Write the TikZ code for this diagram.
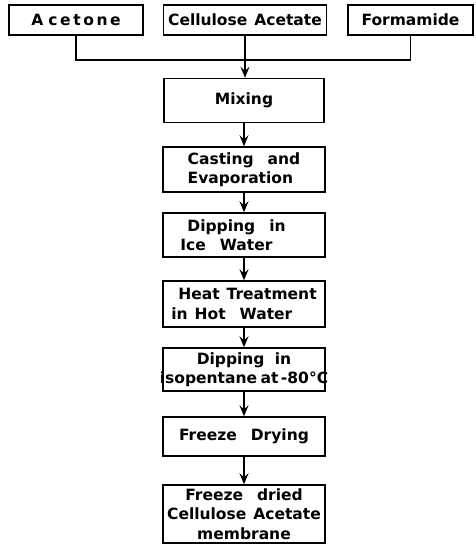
\documentclass[tikz,border=0pt]{standalone}
\usepackage{fontspec}
\setmainfont{DejaVu Sans}[WordSpace=1.3]
\usetikzlibrary{arrows.meta}
\begin{document}
\begin{tikzpicture}[x=1pt,y=-1pt,
  box/.style={draw, line width=1.4pt, inner sep=0pt, font=\fontsize{15.5}{19.5}\selectfont\bfseries},
  lnk/.style={line width=1.4pt},
  arr/.style={line width=1.4pt, -{Stealth[length=11pt,width=9pt,inset=4pt]}}]
\useasboundingbox (0,0) rectangle (475,554);
\node[box, minimum width=134pt, minimum height=30pt] (acet) at (76,20) {A\,\,c\,e\,t\,o\,n\,e};
\node[box, minimum width=163pt, minimum height=30pt] (cell) at (245,20) {Cellulose Acetate};
\node[box, minimum width=125pt, minimum height=30pt] (form) at (410.5,20) {Formamide\hspace{10pt}};
\node[box, minimum width=160pt, minimum height=44pt] (mix) at (244,100.5) {Mixing};
\node[box, minimum width=162pt, minimum height=45pt, align=left] (cast) at (244,169.5) {Casting\ \ and\\Evaporation};
\node[box, minimum width=162pt, minimum height=44pt, align=left] (ice) at (244,235) {\ Dipping\ \ in\\Ice\ \ Water\ \ \ \ \ \ };
\node[box, minimum width=162pt, minimum height=46pt, align=left] (heat) at (244,304) {\ Heat Treatment\\in Hot\ \ Water};
\node[box, text width=160pt, inner xsep=1pt, minimum height=43pt, align=center] (iso) at (244,369.5) {Dipping\ \ in\hspace{24pt}\\\makebox[160pt][c]{isopentane\hspace{3.5pt}at\hspace{2.5pt}-80\textdegree C}};
\node[box, minimum width=162pt, minimum height=39pt] (fd) at (244,436.5) {Freeze\ \ Drying};
\node[box, minimum width=162pt, minimum height=58pt, align=center] (fin) at (244,514) {Freeze\ \ dried\hspace{30pt}\\Cellulose Acetate\\membrane};
\coordinate (join) at (245,60);
\draw[lnk] (acet.south) |- (join);
\draw[lnk] (form.south) |- (join);
\draw[arr] (cell.south) -- (cell.south |- mix.north);
\draw[arr] (mix.south) -- (mix.south |- cast.north);
\draw[arr] (cast.south) -- (ice.north);
\draw[arr] (ice.south) -- (heat.north);
\draw[arr] (heat.south) -- (iso.north);
\draw[arr] (iso.south) -- (fd.north);
\draw[arr] (fd.south) -- (fin.north);
\end{tikzpicture}
\end{document}
